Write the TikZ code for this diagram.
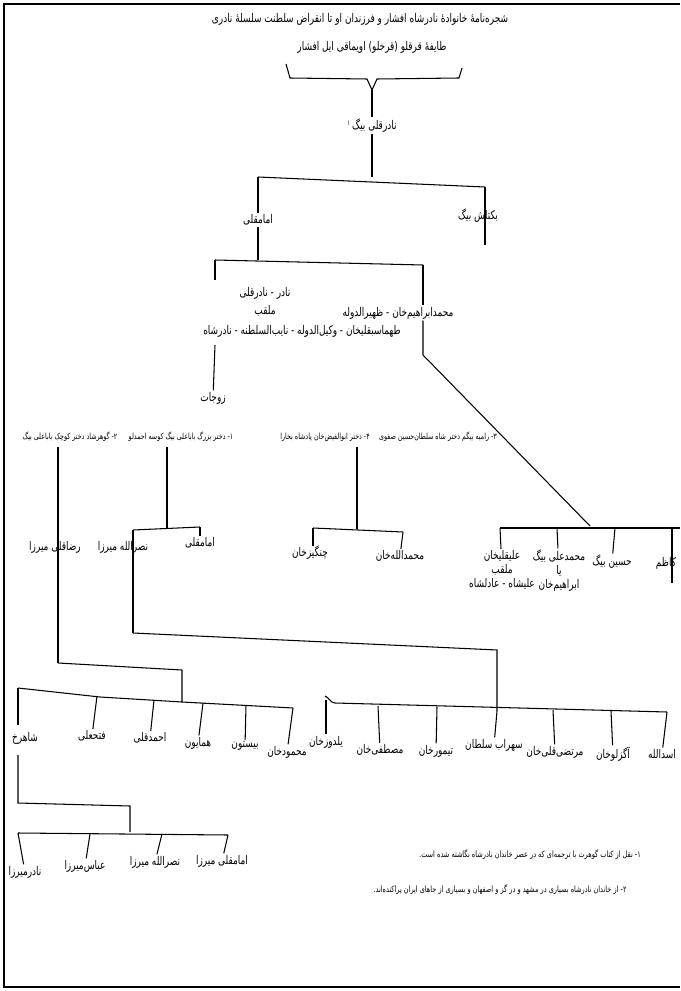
\documentclass[tikz,border=0pt]{standalone}
\usepackage{fontspec}
\newfontfamily\farsi[Script=Arabic, FakeStretch=0.75]{DejaVu Sans}
\TeXXeTstate=1
\usetikzlibrary{positioning}
\newcommand{\fa}[1]{\beginR #1\endR}

\begin{document}
\begin{tikzpicture}[x=0.025cm, y=-0.025cm,
  person/.style={font=\farsi\fontsize{8.5}{10}\selectfont, inner sep=1pt, align=center},
  headline/.style={font=\farsi\fontsize{8.5}{10}\selectfont, inner sep=1pt},
  wife/.style={font=\farsi\fontsize{6}{7}\selectfont, inner sep=1pt},
  footnote/.style={font=\farsi\fontsize{6.2}{7.5}\selectfont, inner sep=1pt},
  link/.style={draw, line width=0.75pt}]
\useasboundingbox (0,0) rectangle (680,991);
% page frame
\draw[line width=0.9pt] (680,4) -- (4,4) -- (4,987) -- (680,987);

% heading
\node[headline] (head) at (360,19) {\fa{شجره‌نامهٔ خانوادهٔ نادرشاه افشار و فرزندان او تا انقراض سلطنت سلسلهٔ نادری}};
\node[headline] (tribe) at (372,47) {\fa{طایفهٔ قرقلو (قرخلو) اویماقی ایل افشار}};
\coordinate (brace) at (372,90);
\draw[link] (286,64) -- (290,78) -- (367,79) -- (brace) -- (377,79) -- (459,78) -- (462,68);

% first generations
\node[person] (nader) at (372,126) {\fa{نادرقلی بیگ\,\raisebox{3pt}{\tiny ۱}}};
\node[person] (imam) at (258,220) {\fa{امامقلی}};
\node[person] (bektash) at (478,216) {\fa{بکتاش بیگ}};
\coordinate (j0) at (372,177);
\coordinate (j0l) at (258,177);
\coordinate (j0r) at (485,187);
\coordinate (bekend) at (485,245);
\draw[link] (brace) -- (nader);
\draw[link] (nader) -- (j0);
\draw[link] (j0l) -- (j0r);
\draw[link] (j0l) -- (imam);
\draw[link] (j0r) -- (bekend);

% children of Imamqoli
\coordinate (j1l) at (215,260);
\coordinate (j1r) at (423,265);
\draw[link] (imam) -- (imam |- j1l);
\draw[link] (j1l) -- (j1r);
\node[person] (ns1) at (265,293) {\fa{نادر - نادرقلی}};
\node[person] (ns2) at (265,311) {\fa{ملقب}};
\node[person] (ns3) at (302,331) {\fa{طهماسبقلیخان - وکیل‌الدوله - نایب‌السلطنه - نادرشاه}};
\node[person] (wives) at (213,398) {\fa{زوجات}};
\coordinate (nstop) at (215,280);
\coordinate (nsbot) at (215,345);
\draw[link] (j1l) -- (nstop);
\draw[link] (nsbot) -- (wives);
\node[person] (ebrahim) at (398,313) {\fa{محمدابراهیم‌خان - ظهیرالدوله}};
\coordinate (diagtop) at (423,355);
\coordinate (diagbot) at (590,526);
\draw[link] (j1r) -- (j1r |- ebrahim.north);
\draw[link] (j1r |- ebrahim.south) -- (diagtop) -- (diagbot);

% wives of Nader
\node[wife] (w2) at (70,437) {\fa{۲- گوهرشاد دختر کوچک باباعلی بیگ}};
\node[wife] (w1) at (181,437) {\fa{۱- دختر بزرگ باباعلی بیگ کوسه احمدلو}};
\node[wife] (w4) at (325,437) {\fa{۴- دختر ابوالفیض‌خان پادشاه بخارا}};
\node[wife] (w3) at (438,437) {\fa{۳- رامیه بیگم دختر شاه سلطان‌حسین صفوی}};

% sons of Nader
\node[person] (reza) at (55,547) {\fa{رضاقلی میرزا}};
\node[person] (nasr) at (123,547) {\fa{نصرالله میرزا}};
\node[person] (imam2) at (200,543) {\fa{امامقلی}};
\node[person] (changiz) at (310,553) {\fa{چنگیزخان}};
\node[person] (mallah) at (400,556) {\fa{محمدالله‌خان}};
\coordinate (rtop) at (58,447);
\coordinate (rbot) at (58,663);
\draw[link] (rtop) -- (rbot);
\coordinate (ntop) at (167,447);
\coordinate (nj) at (167,528);
\coordinate (njl) at (133,530);
\coordinate (njr) at (200,527);
\coordinate (nbot) at (133,633);
\draw[link] (ntop) -- (nj);
\draw[link] (njl) -- (njr);
\draw[link] (njl) -- (nbot);
\draw[link] (njr) -- (imam2);
\coordinate (ctop) at (357,447);
\coordinate (cj) at (357,529);
\coordinate (cjl) at (313,528);
\coordinate (cjr) at (403,532);
\draw[link] (ctop) -- (cj);
\draw[link] (cjl) -- (cjr);
\draw[link] (cjl) -- (313,546);
\draw[link] (cjr) -- (mallah);

% children of Mohammad Ebrahim
\coordinate (ej) at (500,528);
\coordinate (ejr) at (680,528);
\draw[link] (ej) -- (ejr);
\node[person] (alishah) at (502,570) {\fa{علیقلیخان}\\\fa{ملقب}\\\fa{علیشاه - عادلشاه}};
\node[person] (mali) at (559,571) {\fa{محمدعلی بیگ}\\\fa{یا}\\\fa{ابراهیم‌خان}};
\node[person] (hosein) at (612,562) {\fa{حسین بیگ}};
\node[person] (kazem) at (666,563) {\fa{کاظم}};
\draw[link] (ej) -- (alishah);
\draw[link] (557,528) -- (mali);
\draw[link] (615,528) -- (hosein);
\draw[link] (672,528) -- (672,583);

% sons of Reza Qoli
\coordinate (rj) at (182,670);
\coordinate (rjd) at (182,702);
\draw[link] (rbot) -- (rj) -- (rjd);
\draw[link] (18,688) -- (100,697) -- (rjd) -- (293,708);
\node[person] (shahrokh) at (25,738) {\fa{شاهرخ}};
\node[person] (fath) at (92,736) {\fa{فتحعلی}};
\node[person] (ahmad) at (150,738) {\fa{احمدقلی}};
\node[person] (homa) at (198,743) {\fa{همایون}};
\node[person] (bisotun) at (245,746) {\fa{بیستون}};
\node[person] (mahmud) at (287,752) {\fa{محمودخان}};
\draw[link] (18,688) -- (18,725);
\draw[link] (97,696) -- (fath);
\draw[link] (154,700) -- (ahmad);
\draw[link] (203,703) -- (homa);
\draw[link] (246,705) -- (bisotun);
\draw[link] (293,708) -- (mahmud);

% sons of Shahrokh
\coordinate (sj) at (130,806);
\draw[link] (18,755) -- (18,803) -- (sj) -- (130,832);
\draw[link] (18,833) -- (228,835);
\node[person] (nadirm) at (25,872) {\fa{نادرمیرزا}};
\node[person] (abbas) at (85,866) {\fa{عباس‌میرزا}};
\node[person] (nasrm) at (155,862) {\fa{نصرالله میرزا}};
\node[person] (imamm) at (222,861) {\fa{امامقلی میرزا}};
\draw[link] (18,833) -- (nadirm);
\draw[link] (90,834) -- (abbas);
\draw[link] (162,834) -- (nasrm);
\draw[link] (228,835) -- (imamm);

% sons of Nasrollah
\coordinate (sohj) at (497,650);
\draw[link] (nbot) -- (sohj) -- (497,711);
\draw[link] (325,696) to[out=-20,in=180] (335,703) -- (667,712);
\node[person] (yalduz) at (326,742) {\fa{یلدوزخان}};
\node[person] (mostafa) at (380,750) {\fa{مصطفی‌خان}};
\node[person] (teymur) at (436,751) {\fa{تیمورخان}};
\node[person] (sohrab) at (494,745) {\fa{سهراب سلطان}};
\node[person] (morteza) at (555,752) {\fa{مرتضی‌قلی‌خان}};
\node[person] (agz) at (613,754) {\fa{آگزلوخان}};
\node[person] (asad) at (662,754) {\fa{اسدالله}};
\draw[link] (326,700) -- (yalduz);
\draw[link] (378,706) -- (mostafa);
\draw[link] (437,707) -- (teymur);
\draw[link] (497,711) -- (sohrab);
\draw[link] (553,710) -- (morteza);
\draw[link] (611,711) -- (agz);
\draw[link] (667,712) -- (asad);

% footnotes
\node[footnote] (fn1) at (530,855) {\fa{۱- نقل از کتاب گوهرت با ترجمه‌ای که در عصر خاندان نادرشاه نگاشته شده است.}};
\node[footnote] (fn2) at (500,890) {\fa{۲- از خاندان نادرشاه بسیاری در مشهد و در گز و اصفهان و بسیاری از جاهای ایران پراکنده‌اند.}};
\end{tikzpicture}
\end{document}
